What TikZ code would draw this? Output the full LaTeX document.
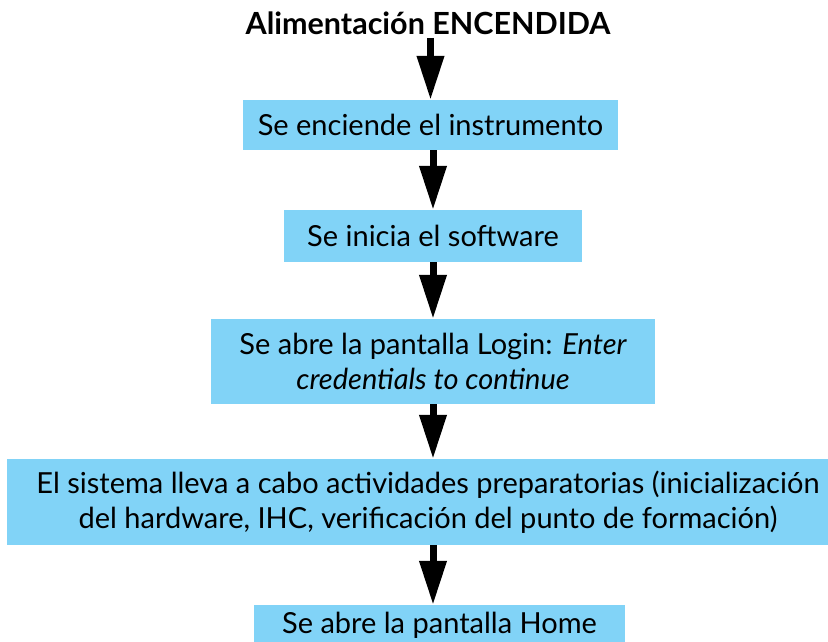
\documentclass[tikz,border=0pt]{standalone}
\usepackage{fontspec}
\setmainfont{Lato}
\usetikzlibrary{positioning,arrows.meta}
\definecolor{cajaazul}{RGB}{129,211,247}
\tikzset{
  paso/.style={fill=cajaazul, inner sep=0pt, align=center, font=\fontsize{29}{35}\selectfont},
  flecha/.style={-{Triangle[width=26pt,length=44pt]}, line width=7pt}
}

\begin{document}
\begin{tikzpicture}[x=1pt,y=-1pt]
        \useasboundingbox (0,0) rectangle (828,642);
        \node[font=\fontsize{30.5}{32}\selectfont\bfseries] (inicio) at (428,23) {Alimentación ENCENDIDA};
        \node[paso, minimum width=375pt, minimum height=50pt] (encender) at (430.5,125) {Se enciende el instrumento};
        \node[paso, minimum width=298pt, minimum height=52pt] (software) at (433,236) {Se inicia el software};
        \node[paso, minimum width=444pt, minimum height=85pt] (login) at (433,361.5) {Se abre la pantalla Login: \itshape Enter\\ \itshape credentials to continue};
        \node[paso, minimum width=842pt, minimum height=86pt] (sistema) at (428,502) {El sistema lleva a cabo actividades preparatorias (inicialización\\ del hardware, IHC, verificación del punto de formación)};
        \node[paso, minimum width=371pt, minimum height=40pt] (home) at (439.5,625) {Se abre la pantalla Home};
        % flechas
        \draw[flecha] (inicio.south -| encender.north) -- (encender.north);
        \draw[flecha] (software.north |- encender.south) -- (software.north);
        \draw[flecha] (software.south) -- (login.north);
        \draw[flecha] (login.south) -- (login.south |- sistema.north);
        \draw[flecha] (login.south |- sistema.south) -- (login.south |- home.north);
    \end{tikzpicture}
\end{document}
